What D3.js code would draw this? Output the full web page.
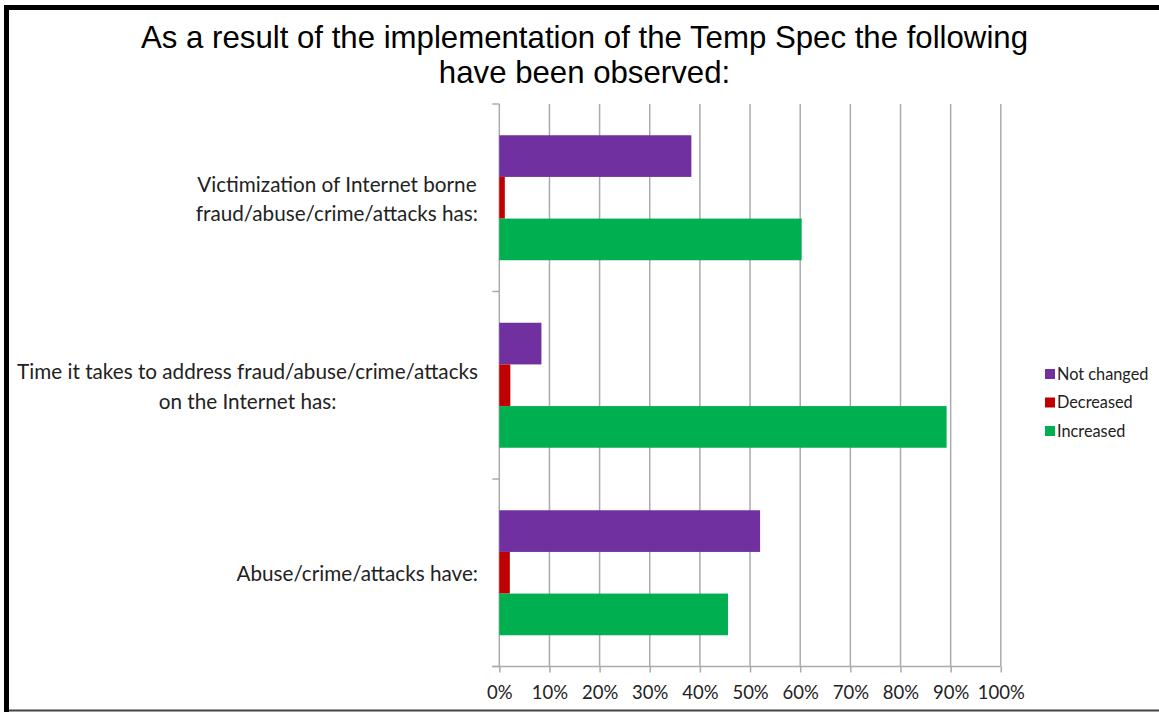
<!DOCTYPE html>
<html><head><meta charset="utf-8">
<script src="https://cdn.jsdelivr.net/npm/d3@7"></script>
<style>
html,body{margin:0;padding:0;background:#fff;}
svg{display:block;}
</style></head>
<body>
<script>
// ---- data ----
const titleLines = ["As a result of the implementation of the Temp Spec the following", "have been observed:"];
const categories = ["Victimization", "Time", "Abuse"];
const categoryLabels = [
  ["Victimization of Internet borne", "fraud/abuse/crime/attacks has:"],
  ["Time it takes to address fraud/abuse/crime/attacks", "on the Internet has:"],
  ["Abuse/crime/attacks have:"]
];
const seriesNames = ["Not changed", "Decreased", "Increased"];
const seriesColors = ["#7030A0", "#C00000", "#00B050"];
const notChanged = [38.3, 8.4, 52.0];
const decreased = [1.1, 2.2, 2.1];
const increased = [60.3, 89.2, 45.6];
const tickValues = [0, 10, 20, 30, 40, 50, 60, 70, 80, 90, 100];

const W = 1159, H = 712;
const svg = d3.select("body").append("svg").attr("width", W).attr("height", H);

// frame
svg.append("rect").attr("x", 0).attr("y", 0).attr("width", W).attr("height", H).attr("fill", "#fff");
svg.append("line").attr("x1", 4).attr("x2", W).attr("y1", 7.5).attr("y2", 7.5).attr("stroke", "#000").attr("stroke-width", 5);
svg.append("line").attr("x1", 6.5).attr("x2", 6.5).attr("y1", 5).attr("y2", H).attr("stroke", "#000").attr("stroke-width", 5);
svg.append("line").attr("x1", 9).attr("x2", W).attr("y1", 710.5).attr("y2", 710.5).attr("stroke", "#444").attr("stroke-width", 2);

// title
svg.append("g").selectAll("text").data(titleLines).join("text")
  .attr("x", 584.5).attr("y", (d, i) => 48 + i * 35)
  .attr("text-anchor", "middle")
  .attr("font-family", "'Liberation Sans', Arial, sans-serif")
  .attr("font-size", 31.2).attr("fill", "#000")
  .text(d => d);

const plot = {left: 499.3, right: 1000.8, top: 104, bottom: 666.5};
const x = d3.scaleLinear().domain([0, 100]).range([plot.left, plot.right]);
const y = d3.scaleBand().domain(categories).range([plot.top, plot.bottom]).padding(0);
const ySub = d3.scaleBand().domain(seriesNames).range([0, y.bandwidth()]).paddingInner(0).paddingOuter(0.75);

const gridColor = "#ababab";
// gridlines
svg.append("g").selectAll("line").data(tickValues.slice(1)).join("line")
  .attr("x1", d => x(d)).attr("x2", d => x(d))
  .attr("y1", plot.top).attr("y2", plot.bottom)
  .attr("stroke", gridColor).attr("stroke-width", 1.5);

// bottom axis
const xAxis = d3.axisBottom(x).tickValues(tickValues).tickFormat(d => d + "%").tickSize(6).tickSizeOuter(0);
const gx = svg.append("g").attr("transform", `translate(0,${plot.bottom})`).call(xAxis);
gx.select(".domain").attr("stroke", gridColor).attr("stroke-width", 1.5).attr("d", `M${plot.left - 7},0H${plot.right}`);
gx.selectAll(".tick line").attr("stroke", gridColor).attr("stroke-width", 1.5);
gx.selectAll(".tick text").attr("font-family", "Lato, 'Open Sans', sans-serif").attr("font-size", 18.5).attr("fill", "#222").attr("dy", "1.25em");

// left axis
const boundaries = categories.map(c => y(c)).concat([plot.bottom]);
svg.append("line").attr("x1", plot.left).attr("x2", plot.left).attr("y1", plot.top).attr("y2", plot.bottom)
  .attr("stroke", gridColor).attr("stroke-width", 1.5);
svg.append("g").selectAll("line").data(boundaries).join("line")
  .attr("x1", plot.left - 7).attr("x2", plot.left).attr("y1", d => d).attr("y2", d => d)
  .attr("stroke", gridColor).attr("stroke-width", 1.5);

// bars
const seriesData = [notChanged, decreased, increased];
seriesNames.forEach((s, si) => {
  svg.append("g").selectAll("rect").data(seriesData[si]).join("rect")
    .attr("x", x(0))
    .attr("y", (d, i) => y(categories[i]) + ySub(s))
    .attr("width", d => x(d) - x(0))
    .attr("height", ySub.bandwidth())
    .attr("fill", seriesColors[si]);
});

// category labels
categories.forEach((c, i) => {
  const lines = categoryLabels[i];
  const lh = 29.5;
  const cy = y(c) + y.bandwidth() / 2;
  const t = svg.append("text")
    .attr("font-family", "Lato, 'Open Sans', sans-serif")
    .attr("font-size", 20.7).attr("fill", "#222")
    .attr("text-anchor", "middle");
  lines.forEach((l, li) => {
    t.append("tspan").attr("x", 0).attr("y", cy + (li - (lines.length - 1) / 2) * lh + 8.5).text(l);
  });
  const bw = t.node().getBBox().width;
  t.attr("transform", `translate(${478 - bw / 2},0)`);
});

// legend
const lg = svg.append("g").attr("transform", "translate(1045,369)");
seriesNames.forEach((s, i) => {
  lg.append("rect").attr("x", 0).attr("y", i * 28.5).attr("width", 10).attr("height", 10).attr("fill", seriesColors[i]);
  lg.append("text").attr("x", 12).attr("y", i * 28.5 + 10.5)
    .attr("font-family", "Lato, 'Open Sans', sans-serif").attr("font-size", 16.3).attr("fill", "#222").text(s);
});
</script>
</body></html>
